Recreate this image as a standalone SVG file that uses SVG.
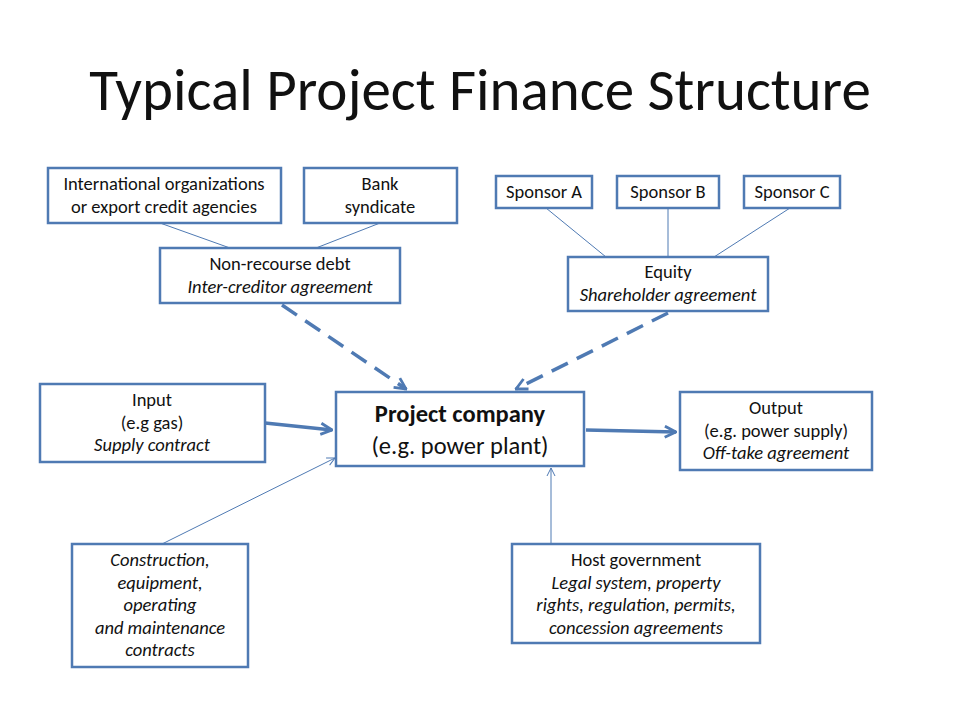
<svg xmlns="http://www.w3.org/2000/svg" width="960" height="720" viewBox="0 0 960 720">
<style>
.b{fill:#fff;stroke:#4f7ab3;stroke-width:2.5}
text{font-family:Calibri,"Carlito","Open Sans","Liberation Sans",sans-serif;font-size:18.5px;fill:#111;text-anchor:middle}
.i{font-style:italic}
.t{font-size:59px}
.thin{stroke:#4f7ab3;stroke-width:1;fill:none}
.thick{stroke:#4f7ab3;stroke-width:3.5;fill:none}
.dash{stroke:#4f7ab3;stroke-width:3.5;fill:none;stroke-dasharray:18,10}
</style>
<defs>
<marker id="v" viewBox="0 0 10 10" refX="9" refY="5" markerWidth="4" markerHeight="4" orient="auto" markerUnits="strokeWidth"><path d="M1,1 L9,5 L1,9" fill="none" stroke="#4f7ab3" stroke-width="2"/></marker>
<marker id="vs" viewBox="0 0 10 10" refX="9" refY="5" markerWidth="10" markerHeight="10" orient="auto" markerUnits="strokeWidth"><path d="M1,1 L9,5 L1,9" fill="none" stroke="#4f7ab3" stroke-width="1"/></marker>
</defs>
<rect width="960" height="720" fill="#fff"/>
<text class="t" x="480" y="110">Typical Project Finance Structure</text>
<g id="connectors">
<line class="thin" x1="160" y1="223" x2="230" y2="248"/>
<line class="thin" x1="380" y1="223" x2="316" y2="248"/>
<line class="thin" x1="546" y1="208" x2="606" y2="257"/>
<line class="thin" x1="668" y1="208" x2="668" y2="257"/>
<line class="thin" x1="790" y1="208" x2="714" y2="257"/>
<line class="dash" x1="282" y1="305" x2="406" y2="389" marker-end="url(#v)"/>
<line class="dash" x1="668" y1="313" x2="516" y2="389" marker-end="url(#v)"/>
<line class="thick" x1="265" y1="423" x2="332" y2="430" marker-end="url(#v)"/>
<line class="thick" x1="586" y1="430" x2="676" y2="432" marker-end="url(#v)"/>
<line class="thin" x1="162" y1="544" x2="335" y2="458" marker-end="url(#vs)"/>
<line class="thin" x1="551" y1="544" x2="551" y2="468" marker-end="url(#vs)"/>
</g>
<g id="intl"><rect class="b" x="48" y="168" width="233" height="55"/><text x="164" y="190">International organizations</text><text x="164" y="213">or export credit agencies</text></g>
<g id="bank"><rect class="b" x="304" y="168" width="153" height="55"/><text x="380" y="190">Bank</text><text x="380" y="213">syndicate</text></g>
<g id="sa"><rect class="b" x="496" y="176" width="96" height="32"/><text x="544" y="198">Sponsor A</text></g>
<g id="sb"><rect class="b" x="617" y="176" width="102" height="32"/><text x="668" y="198">Sponsor B</text></g>
<g id="sc"><rect class="b" x="744" y="176" width="96" height="32"/><text x="792" y="198">Sponsor C</text></g>
<g id="debt"><rect class="b" x="160" y="248" width="240" height="55"/><text x="280" y="270">Non-recourse debt</text><text class="i" x="280" y="293">Inter-creditor agreement</text></g>
<g id="equity"><rect class="b" x="568" y="257" width="200" height="54"/><text x="668" y="278">Equity</text><text class="i" x="668" y="301">Shareholder agreement</text></g>
<g id="input"><rect class="b" x="40" y="384" width="225" height="78"/><text x="152" y="406">Input</text><text x="152" y="429">(e.g gas)</text><text class="i" x="152" y="451">Supply contract</text></g>
<g id="project"><rect class="b" x="336" y="392" width="248" height="74"/><text x="460" y="422" style="font-size:24.5px;font-weight:bold">Project company</text><text x="460" y="454" style="font-size:24.5px">(e.g. power plant)</text></g>
<g id="output"><rect class="b" x="680" y="392" width="192" height="78"/><text x="776" y="414">Output</text><text x="776" y="437">(e.g. power supply)</text><text class="i" x="776" y="459">Off-take agreement</text></g>
<g id="construction"><rect class="b" x="72" y="544" width="176" height="123"/><text class="i" x="160" y="566">Construction,</text><text class="i" x="160" y="589">equipment,</text><text class="i" x="160" y="611">operating</text><text class="i" x="160" y="634">and maintenance</text><text class="i" x="160" y="656">contracts</text></g>
<g id="host"><rect class="b" x="512" y="544" width="248" height="99"/><text x="636" y="566">Host government</text><text class="i" x="636" y="589">Legal system, property</text><text class="i" x="636" y="611">rights, regulation, permits,</text><text class="i" x="636" y="634">concession agreements</text></g>
</svg>
